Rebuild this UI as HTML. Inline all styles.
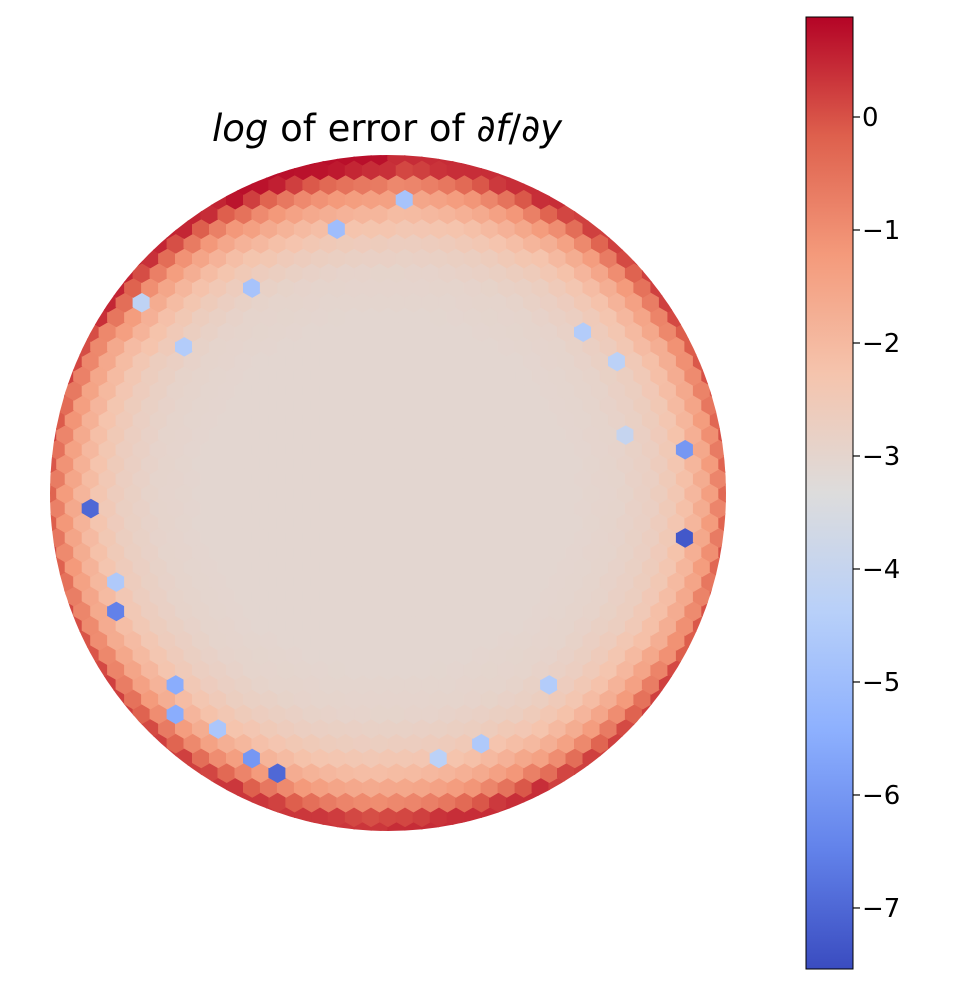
<!DOCTYPE html>
<html><head><meta charset="utf-8"><style>
html,body{margin:0;padding:0;background:#fff;width:960px;height:986px;overflow:hidden}
svg text{font-family:"DejaVu Sans","Liberation Sans",sans-serif}
</style></head><body>
<svg id="chart" width="960" height="986" viewBox="0 0 960 986" xmlns="http://www.w3.org/2000/svg">
<defs><clipPath id="disc"><circle cx="388" cy="493" r="338"/></clipPath>
<linearGradient id="cmap" x1="0" y1="1" x2="0" y2="0">
<stop offset="0" stop-color="rgb(58,76,192)"/><stop offset="0.125" stop-color="rgb(98,130,234)"/>
<stop offset="0.25" stop-color="rgb(141,176,254)"/><stop offset="0.375" stop-color="rgb(184,208,249)"/>
<stop offset="0.5" stop-color="rgb(221,220,220)"/><stop offset="0.625" stop-color="rgb(245,196,173)"/>
<stop offset="0.75" stop-color="rgb(244,154,123)"/><stop offset="0.875" stop-color="rgb(222,96,77)"/>
<stop offset="1" stop-color="rgb(180,4,38)"/></linearGradient></defs>
<text x="387" y="141" font-size="37" text-anchor="middle"><tspan font-style="italic">log</tspan> of error of ∂<tspan font-style="italic">f</tspan>/∂<tspan font-style="italic">y</tspan></text>
<g id="cells" clip-path="url(#disc)"></g>
<rect x="806" y="17" width="47" height="952" fill="url(#cmap)" stroke="#000" stroke-width="1"/>
<g id="cbticks"></g>
</svg>
<script>
// radial profile of log-error (normalized radius -> value)
const radii = [0, 0.55, 0.68, 0.77, 0.84, 0.89, 0.93, 0.96, 1.0];
const radialValues = [-3.05, -3.05, -2.95, -2.7, -2.3, -1.8, -1.3, -0.7, 0.2];
// edge offset by angle sector (12 sectors starting at +x, counter-clockwise)
const sectorOffsets = [-0.2, 0.0, 0.2, 0.5, 0.3, 0.0, -0.1, 0.0, 0.1, 0.2, 0.0, -0.2];
// outlier cells: x, y in unit-disc coords, value
const outlierX = [-0.9, 0.88, 0.88, -0.8, -0.335, -0.38, -0.61, -0.61, -0.13, 0.036, -0.38, -0.62, 0.56, 0.7, 0.47, -0.5, 0.3, 0.15, -0.73, 0.7, -0.78];
const outlierY = [-0.036, -0.148, 0.104, -0.325, -0.845, -0.777, -0.568, -0.666, 0.793, 0.858, 0.625, 0.42, 0.47, 0.39, -0.56, -0.68, -0.74, -0.8, 0.56, 0.2, -0.25];
const outlierV = [-7.0, -7.3, -6.0, -6.5, -7.0, -6.0, -5.5, -5.5, -5.0, -4.8, -4.8, -4.5, -4.5, -4.3, -4.5, -4.7, -4.6, -4.3, -4.2, -4.0, -4.6];
const ticks = [0, -1, -2, -3, -4, -5, -6, -7];
const vmin = -7.54, vmax = 0.885;

const cx = 388, cy = 493, R = 338;
const sx = v => cx + v * R, sy = v => cy - v * R;
const cbY = v => 969 - (v - vmin) / (vmax - vmin) * 952;
const stops = [[58,76,192],[98,130,234],[141,176,254],[184,208,249],[221,220,220],[245,196,173],[244,154,123],[222,96,77],[180,4,38]];
function cmap(v){let t=(v-vmin)/(vmax-vmin);t=Math.max(0,Math.min(1,t))*8;const i=Math.min(7,Math.floor(t)),f=t-i;
 const a=stops[i],b=stops[i+1];return `rgb(${a.map((c,k)=>Math.round(c+(b[k]-c)*f)).join(',')})`;}
function radial(r){r=Math.min(1,r);for(let i=1;i<radii.length;i++){if(r<=radii[i]){const f=(r-radii[i-1])/(radii[i]-radii[i-1]);return radialValues[i-1]+(radialValues[i]-radialValues[i-1])*f;}}return radialValues[radialValues.length-1];}
const NS="http://www.w3.org/2000/svg";
const g=document.getElementById('cells');
const h=0.058, w=h*Math.sqrt(3)/2;
const cells=[];
for(let row=-30;row<=30;row++){for(let col=-26;col<=26;col++){
 const px=col*w+(Math.abs(row)%2?w/2:0), py=row*h*0.75;
 const r=Math.hypot(px/1.02,py/0.97); if(Math.hypot(px,py)>1.06) continue;
 let ang=Math.atan2(py,px); if(ang<0) ang+=2*Math.PI;
 const sec=Math.floor(ang/(Math.PI/6))%12;
 const edgeW=Math.max(0,(r-0.7)/0.3);
 cells.push({px,py,v:radial(r)+sectorOffsets[sec]*edgeW});
}}
for(let k=0;k<outlierX.length;k++){let best=null,bd=1e9;
 cells.forEach(c=>{const d=Math.hypot(c.px-outlierX[k],c.py-outlierY[k]);if(d<bd){bd=d;best=c;}});
 if(best) best.v=outlierV[k];}
cells.forEach(c=>{
 const pts=[];for(let k=0;k<6;k++){const a=Math.PI/6+k*Math.PI/3;pts.push((sx(c.px+Math.cos(a)*h*0.52)).toFixed(1)+','+(sy(c.py+Math.sin(a)*h*0.52)).toFixed(1));}
 const p=document.createElementNS(NS,'polygon');
 p.setAttribute('points',pts.join(' '));p.setAttribute('fill',cmap(c.v));p.setAttribute('stroke',cmap(c.v));p.setAttribute('stroke-width','0.8');
 
 
 g.appendChild(p);
});
const tg=document.getElementById('cbticks');
ticks.forEach(t=>{const y=cbY(t);
 const l=document.createElementNS(NS,'line');l.setAttribute('x1',853);l.setAttribute('x2',860);l.setAttribute('y1',y);l.setAttribute('y2',y);l.setAttribute('stroke','#000');l.setAttribute('stroke-width','1.2');
 
 
 tg.appendChild(l);
 const tx=document.createElementNS(NS,'text');tx.setAttribute('x',862);tx.setAttribute('y',y+9);tx.setAttribute('font-size','26');
 tx.textContent=t<0?'\u2212'+Math.abs(t):String(t);
 
 
 tg.appendChild(tx);});
</script>
</body></html>
